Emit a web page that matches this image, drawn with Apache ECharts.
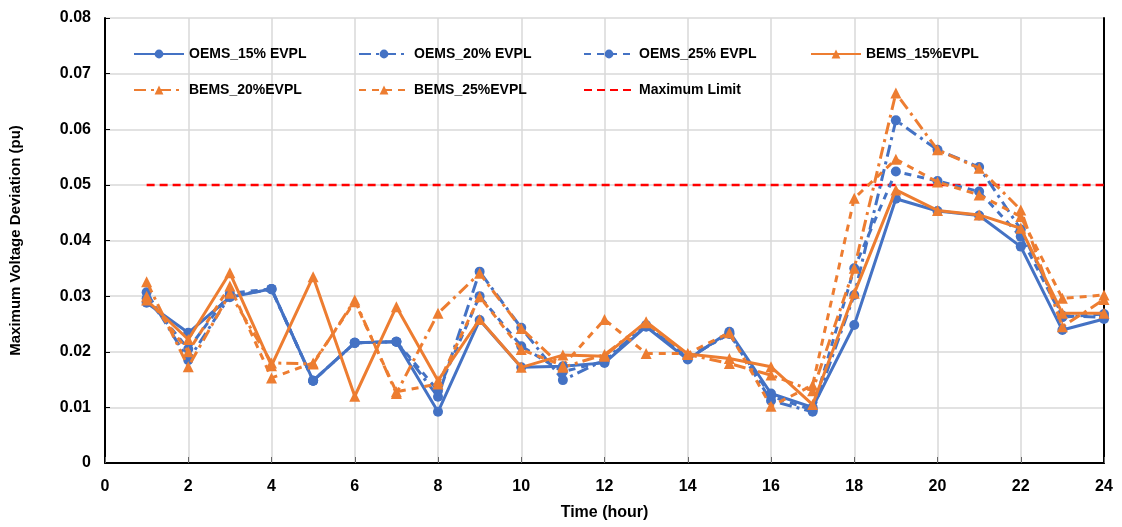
<!DOCTYPE html>
<html><head><meta charset="utf-8">
<script src="https://cdn.jsdelivr.net/npm/echarts@6/dist/echarts.min.js"></script>
<style>html,body{margin:0;padding:0;background:#fff}#c{width:1122px;height:527px}</style>
</head><body><div id="c"></div>
<script>
const hours = [1,2,3,4,5,6,7,8,9,10,11,12,13,14,15,16,17,18,19,20,21,22,23,24];
const xTicks = [0,2,4,6,8,10,12,14,16,18,20,22,24];
const yTicks = [0,0.01,0.02,0.03,0.04,0.05,0.06,0.07,0.08];
const OEMS_15 = [0.0288,0.0234,0.0298,0.0313,0.0148,0.0216,0.0218,0.0092,0.0257,0.0172,0.0174,0.0180,0.0245,0.0186,0.0236,0.0125,0.0100,0.0248,0.0475,0.0453,0.0445,0.0389,0.0239,0.0259];
const OEMS_20 = [0.0307,0.0185,0.0300,0.0312,0.0148,0.0216,0.0218,0.0119,0.0344,0.0243,0.0149,0.0185,0.0248,0.0188,0.0233,0.0112,0.0092,0.0302,0.0616,0.0563,0.0532,0.0420,0.0265,0.0262];
const OEMS_25 = [0.0296,0.0205,0.0305,0.0313,0.0148,0.0216,0.0218,0.0130,0.0300,0.0210,0.0164,0.0183,0.0246,0.0190,0.0232,0.0120,0.0095,0.0350,0.0524,0.0507,0.0488,0.0407,0.0262,0.0268];
const BEMS_15 = [0.0293,0.0222,0.0342,0.0175,0.0335,0.0120,0.0281,0.0148,0.0258,0.0172,0.0194,0.0192,0.0254,0.0196,0.0188,0.0173,0.0105,0.0305,0.0491,0.0454,0.0446,0.0422,0.0269,0.0269];
const BEMS_20 = [0.0326,0.0173,0.0305,0.0180,0.0178,0.0293,0.0125,0.0269,0.0341,0.0242,0.0172,0.0195,0.0252,0.0195,0.0179,0.0158,0.0130,0.0350,0.0665,0.0563,0.0530,0.0455,0.0245,0.0294];
const BEMS_25 = [0.0300,0.0200,0.0318,0.0153,0.0180,0.0290,0.0128,0.0142,0.0299,0.0204,0.0175,0.0258,0.0197,0.0197,0.0234,0.0102,0.0140,0.0476,0.0546,0.0505,0.0482,0.0443,0.0296,0.0302];
const limitX = [1,24];
const limitVal = 0.05;
const names = ['OEMS_15% EVPL','OEMS_20% EVPL','OEMS_25% EVPL','BEMS_15%EVPL','BEMS_20%EVPL','BEMS_25%EVPL','Maximum Limit'];

const BLUE = '#4472C4', ORANGE = '#ED7D31', RED = '#FF0000';
const DASHDOT = [12,5,3,5], DASH = [7,6];
const FONT = 'Liberation Sans';

function pair(arr){ return hours.map((h,i)=>[h,arr[i]]); }
function mk(name, arr, color, type, symbol, size, z){
  return {name, type:'line', data:pair(arr), symbol, symbolSize:size, z,
    lineStyle:{color, width:3, type}, itemStyle:{color}, emphasis:{disabled:true}};
}
const series = [
  mk(names[0], OEMS_15, BLUE, 'solid', 'circle', 10, 5),
  mk(names[1], OEMS_20, BLUE, DASHDOT, 'circle', 10, 4),
  mk(names[2], OEMS_25, BLUE, DASH, 'circle', 10, 4),
  mk(names[3], BEMS_15, ORANGE, 'solid', 'triangle', 11, 6),
  mk(names[4], BEMS_20, ORANGE, DASHDOT, 'triangle', 11, 5),
  mk(names[5], BEMS_25, ORANGE, DASH, 'triangle', 11, 5),
  {name:names[6], type:'line', data:limitX.map(x=>[x,limitVal]), symbol:'none', z:3,
   lineStyle:{color:RED, width:2.5, type:[8,5]}, itemStyle:{color:RED}}
];
const legendText = {fontFamily:FONT, fontWeight:'bold', fontSize:14, color:'#000'};
function lg(left, top, data){
  return {left, top, orient:'vertical', itemWidth:50, itemHeight:11, itemGap:22, data,
    textStyle:legendText, selectedMode:false};
}
const chart = echarts.init(document.getElementById('c'), null, {renderer:'canvas'});
chart.setOption({
  animation:false,
  backgroundColor:'#fff',
  grid:{left:103, right:18, top:18, bottom:64},
  legend:[
    lg(128, 42, [names[0], names[4]]),
    lg(353, 42, [names[1], names[5]]),
    lg(578, 42, [names[2], {name:names[6], itemStyle:{opacity:0}}]),
    lg(805, 42, [names[3]])
  ],
  xAxis:{type:'value', min:xTicks[0], max:xTicks[xTicks.length-1], interval:2,
    name:'Time (hour)', nameLocation:'middle', nameGap:42,
    nameTextStyle:{fontFamily:FONT, fontWeight:'bold', fontSize:16, color:'#000'},
    axisLine:{lineStyle:{color:'#000', width:2}},
    axisTick:{inside:true, length:6, lineStyle:{color:'#666'}},
    axisLabel:{margin:16, fontFamily:FONT, fontWeight:'bold', fontSize:16, color:'#000'},
    splitLine:{show:true, lineStyle:{color:'#d9d9d9', width:1.5}}},
  yAxis:[{type:'value', min:yTicks[0], max:yTicks[yTicks.length-1], interval:0.01,
    name:'Maximum Voltage Deviation (pu)', nameLocation:'middle', nameGap:82,
    nameTextStyle:{fontFamily:FONT, fontWeight:'bold', fontSize:15, color:'#000'},
    axisLine:{show:true, lineStyle:{color:'#000', width:2}},
    axisTick:{show:true, inside:true, length:5, lineStyle:{color:'#000'}},
    axisLabel:{margin:14, fontFamily:FONT, fontWeight:'bold', fontSize:16, color:'#000',
      formatter:v=>v===0?'0':v.toFixed(2)},
    splitLine:{show:true, lineStyle:{color:'#d9d9d9', width:1.5}}},
   {type:'value', position:'right', min:yTicks[0], max:yTicks[yTicks.length-1], interval:0.01,
    axisLine:{show:true, lineStyle:{color:'#000', width:2}}, axisTick:{show:false},
    axisLabel:{show:false}, splitLine:{show:false}}],
  series
});
</script></body></html>
